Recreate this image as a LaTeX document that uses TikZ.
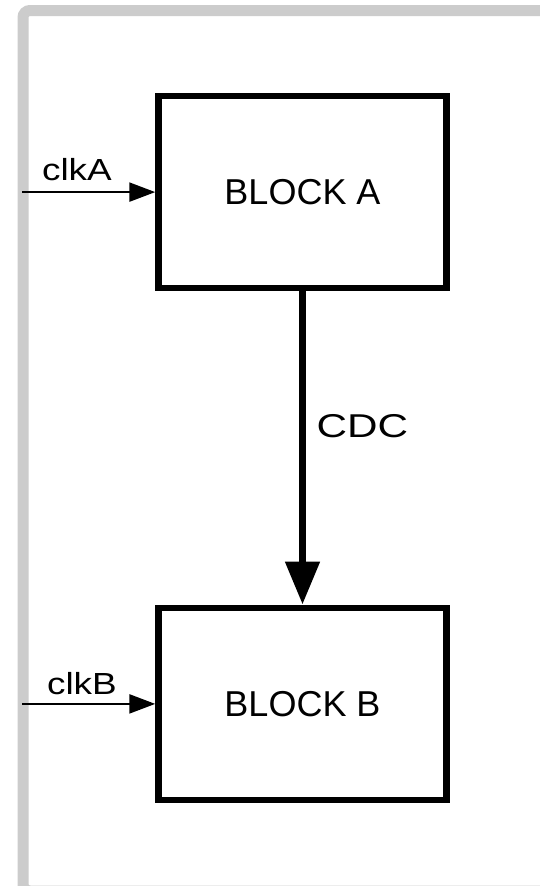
\documentclass[tikz,border=0pt]{standalone}
\usepackage{fontspec}
\setmainfont{Liberation Sans}
\newfontfamily\clkfont[FakeStretch=1.21]{Liberation Sans}
\newfontfamily\cdcfont[FakeStretch=1.28]{Liberation Sans}
\usetikzlibrary{arrows.meta}
\definecolor{framegray}{HTML}{CCCCCC}
\tikzset{
  blockbox/.style={draw=black, line width=6.5pt, minimum width=288pt, minimum height=192pt,
    inner sep=0pt, font=\fontsize{36pt}{43pt}\selectfont},
  clkarrow/.style={line width=2.4pt, -{Triangle[width=19pt,length=26pt]}},
  cdcarrow/.style={line width=7.7pt, -{Triangle[width=33pt,length=43pt]}},
  clklabel/.style={anchor=base west, inner sep=0pt, font=\clkfont\fontsize{30.5pt}{36pt}\selectfont},
  cdclabel/.style={anchor=base west, inner sep=0pt, font=\cdcfont\fontsize{33pt}{39pt}\selectfont}
}
\begin{document}
\begin{tikzpicture}[x=1pt,y=-1pt]
\useasboundingbox (0,0) rectangle (540,886);
\fill[white] (0,0) rectangle (540,886);
% outer gray frame (extends past the right and bottom edges)
\draw[framegray, line width=11pt, rounded corners=7pt] (23,10.5) rectangle (570,891);
% blocks
\node[blockbox] (A) at (302.5,192.1) {BLOCK A};
\node[blockbox] (B) at (302.5,703.9) {BLOCK B};
% clock inputs
\coordinate (ca) at (22,192.1);
\coordinate (cb) at (22,703.9);
\draw[clkarrow] (ca) -- (A.west);
\draw[clkarrow] (cb) -- (B.west);
\node[clklabel] (la) at (41.9,180.5) {clkA};
\node[clklabel] (lb) at (46.9,694.3) {clkB};
% CDC connection
\draw[cdcarrow] (A.south) -- (B.north);
\node[cdclabel] (lc) at (316.5,437.6) {CDC};
\end{tikzpicture}
\end{document}
